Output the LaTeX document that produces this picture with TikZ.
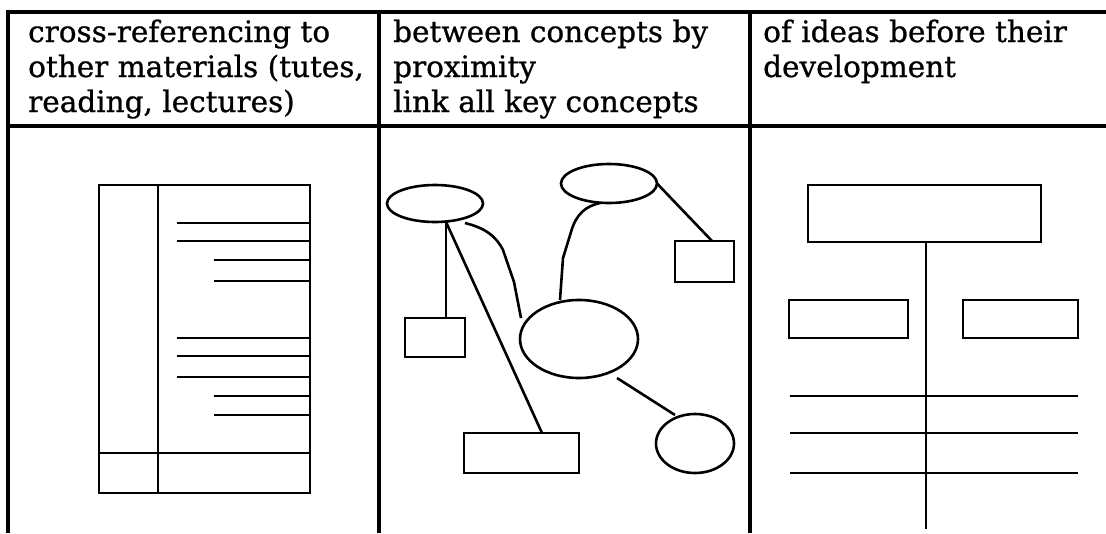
\documentclass[tikz,border=0pt]{standalone}
\usepackage{fontspec}
\setmainfont[FakeBold=0.8]{DejaVu Serif}
\usetikzlibrary{calc,shapes.geometric}
\tikzset{
  grid/.style={line width=3.4pt},
  shp/.style={line width=2.6pt},
  ell/.style={shp, draw, ellipse, inner sep=0pt, outer sep=0pt},
  box/.style={shp, draw, rectangle, inner sep=0pt, outer sep=0pt},
  conn/.style={shp, line join=round},
  hdr/.style={anchor=base west, inner sep=0pt, font=\fontsize{29.5}{35}\selectfont}
}
\begin{document}
\begin{tikzpicture}[x=1pt,y=-1pt]
\useasboundingbox (0,0) rectangle (1106,533);
% table
\draw[grid] (8,12) -- (1106,12);
\draw[grid] (8,126) -- (1106,126);
\draw[grid] (8,10.3) -- (8,533);
\draw[grid] (379,12) -- (379,533);
\draw[grid] (750,12) -- (750,533);
% header texts
\node[hdr] (t11) at (28,42) {cross-referencing to};
\node[hdr] (t12) at (28,77) {other materials (tutes,};
\node[hdr] (t13) at (28,112) {reading, lectures)};
\node[hdr] (t21) at (393,42) {between concepts by};
\node[hdr] (t22) at (393,77) {proximity};
\node[hdr] (t23) at (393,112) {link all key concepts};
\node[hdr] (t31) at (763,42) {of ideas before their};
\node[hdr] (t32) at (763,77) {development};
% column 1: page layout
\draw[shp] (99,185) rectangle (310,493);
\draw[shp] (158,185) -- (158,493);
\draw[shp] (99,453) -- (310,453);
\foreach \yy in {223,241,338,356,377} \draw[shp] (177,\yy) -- (310,\yy);
\foreach \yy in {260,281,396,415} \draw[shp] (214,\yy) -- (310,\yy);
% column 2: concept map
\node[ell, minimum width=96, minimum height=37] (A) at (435,203.5) {};
\node[ell, minimum width=96, minimum height=39] (B) at (609,183.5) {};
\node[box, minimum width=59, minimum height=41] (C) at (704.5,261.5) {};
\node[ell, minimum width=118, minimum height=78] (D) at (579,339) {};
\node[box, minimum width=60, minimum height=39] (E) at (435,337.5) {};
\node[box, minimum width=115, minimum height=40] (F) at (521.5,453) {};
\node[ell, minimum width=78, minimum height=59] (G) at (695,443.5) {};
\draw[conn] (A.-59) -- (A.-59 |- E.north);
\draw[conn] (A.-59) -- ($(F.north)+(20.5,0)$);
\draw[conn] ($(A.south)+(30,1)$) .. controls (485,228) and (496,236) .. (503,250) -- (514,282) -- ($(D.west)+(1,-21)$);
\draw[conn] ($(B.south)+(-9,0)$) .. controls (586,206) and (576,214) .. (571,232) -- (563,258) -- ($(D.north)+(-19,0)$);
\draw[conn] (B.east) -- ($(C.north)+(7.5,0)$);
\draw[conn] ($(D.south)+(38,0)$) -- ($(G.north)+(-20,1)$);
% column 3: hierarchy
\node[box, minimum width=233, minimum height=57] (H) at (924.5,213.5) {};
\node[box, minimum width=119, minimum height=38] (L) at (848.5,319) {};
\node[box, minimum width=115, minimum height=38] (R) at (1020.5,319) {};
\coordinate (Hend) at (926,529);
\draw[shp] ($(H.south)+(1.5,0)$) -- (Hend);
\foreach \yy in {396,433,473} \draw[shp] (790,\yy) -- (1078,\yy);
\end{tikzpicture}
\end{document}
